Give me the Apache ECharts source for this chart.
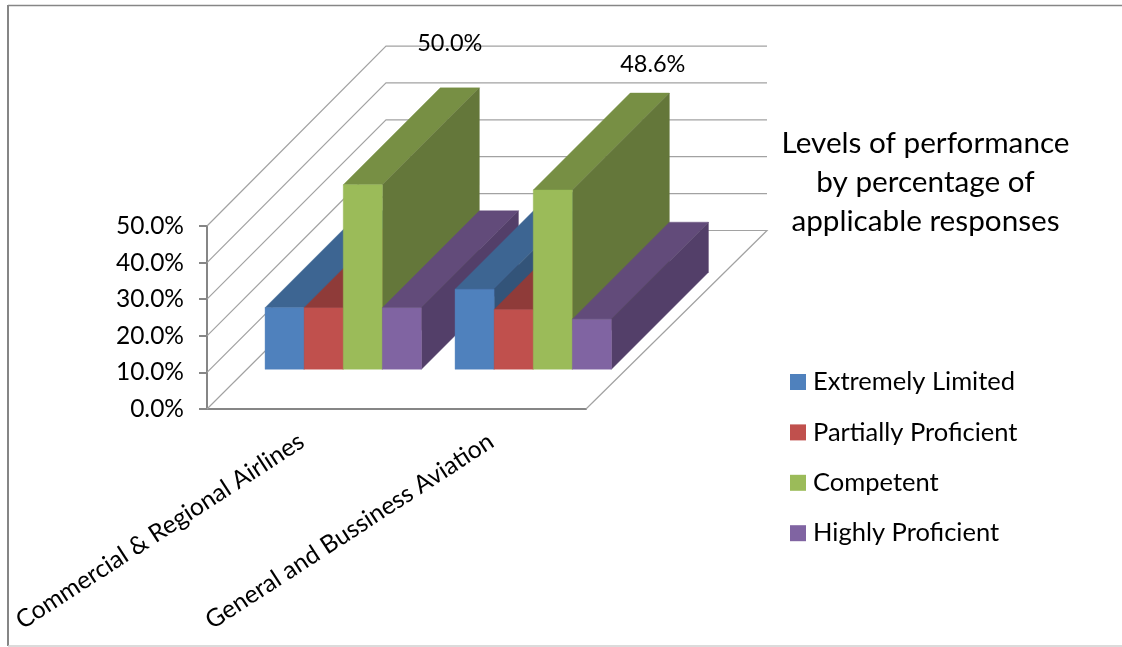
<!DOCTYPE html>
<html>
<head>
<meta charset="utf-8">
<style>html,body{margin:0;padding:0;background:#fff}#c{width:1122px;height:647px}</style>
<script src="https://cdn.jsdelivr.net/npm/echarts@6/dist/echarts.min.js"></script>
</head>
<body>
<div id="c"></div>
<script>
const categories = ['Commercial & Regional Airlines', 'General and Bussiness Aviation'];
const extremelyLimited = [16.7, 21.7];
const partiallyProficient = [16.7, 16.2];
const competent = [50.0, 48.6];
const highlyProficient = [16.7, 13.6];
const gridLevels = [0, 10, 20, 30, 40, 50];
const seriesNames = ['Extremely Limited', 'Partially Proficient', 'Competent', 'Highly Proficient'];
const titleLines = ['Levels of performance', 'by percentage of', 'applicable responses'];

const FONT = 'Lato';
const FRONT = ['#4f81bd', '#c0504d', '#9bbb59', '#8064a2'];
const TOP = ['#3d6592', '#8f3b39', '#778f44', '#624b7a'];
const SIDE = ['#335479', '#7d3432', '#64773a', '#533f69'];
const persp = 1.008, wallDepth = 179, wallDepthR = 181, wallDrop = 178.5;
const barShiftX = 41.5, barShiftY = 39.7, barDepth = 97, barW = 39.1;

function poly(points, fill, z2) {
  return { type: 'polygon', z2, shape: { points }, style: { fill, stroke: fill, lineWidth: 0.4 } };
}

function renderBar(sIdx) {
  return function (params, api) {
    const cat = api.value(0), val = api.value(1);
    const c0 = api.coord([cat, 0]), cv = api.coord([cat, val]);
    const h = (c0[1] - cv[1]) * persp;
    const x0 = c0[0] + barShiftX + (cat * 0.5) + (sIdx - 2) * barW;
    const x1 = x0 + barW, yb = c0[1] - barShiftY, yt = yb - h;
    const d = barDepth, zb = (cat + 1) * 100 + sIdx * 10;
    const children = [
      poly([[x0, yt], [x1, yt], [x1 + d, yt - d], [x0 + d, yt - d]], TOP[sIdx], zb),
      poly([[x1, yt], [x1 + d, yt - d], [x1 + d, yb - d], [x1, yb]], SIDE[sIdx], zb),
      poly([[x0, yt], [x1, yt], [x1, yb], [x0, yb]], FRONT[sIdx], zb + 1)
    ];
    if (sIdx === 2) {
      children.push({
        type: 'text', z2: 1000,
        x: x0 + barW / 2 + 87 + 13 * cat,
        y: yt - 141 + 15.5 * cat,
        style: { text: val.toFixed(1) + '%', font: '23.5px ' + FONT, fill: '#000', align: 'center', verticalAlign: 'middle' }
      });
    }
    return { type: 'group', children };
  };
}

function renderWall(params, api) {
  const level = api.value(0);
  const c0 = api.coord([0, 0]);
  const band = api.size([1, 0])[0];
  const cy = api.coord([0, level]);
  const left = c0[0] - band / 2;
  const right = left + band * 2;
  const yFront = cy[1];
  const yBack = c0[1] - wallDrop - (c0[1] - cy[1]) * persp;
  const pts = [[left, yFront], [left + wallDepth, yBack], [right + wallDepthR, yBack]];
  if (level === 0) pts.push([right, c0[1]]);
  return { type: 'polyline', shape: { points: pts }, style: { fill: null, stroke: '#a2a2a2', lineWidth: 1.2 } };
}

function barSeries(name, values, idx) {
  return {
    type: 'custom', name, coordinateSystem: 'cartesian2d', z: 3, clip: false,
    itemStyle: { color: FRONT[idx] },
    encode: { x: 0, y: 1 },
    data: values.map((v, i) => [i, v]),
    renderItem: renderBar(idx)
  };
}

const chart = echarts.init(document.getElementById('c'), null, { renderer: 'canvas' });
chart.setOption({
  animation: false,
  backgroundColor: '#fff',
  textStyle: { fontFamily: FONT },
  title: {
    text: titleLines.join('\n'),
    left: 925.5, top: 124, textAlign: 'center', padding: 0,
    textStyle: { fontFamily: FONT, fontWeight: 'normal', fontSize: 29.7, lineHeight: 39, color: '#000' }
  },
  legend: {
    orient: 'vertical', left: 790, top: 369, padding: 0,
    itemWidth: 16, itemHeight: 16, itemGap: 24.4, icon: 'rect',
    data: seriesNames,
    textStyle: { fontFamily: FONT, fontSize: 25.5, color: '#000', padding: [0, 0, 0, 2], lineHeight: 26 }
  },
  grid: { left: 207, right: 536, top: 226, bottom: 238 },
  xAxis: {
    type: 'category', data: categories,
    axisLine: { lineStyle: { color: '#868686', width: 2 } },
    axisTick: { length: 8, lineStyle: { color: '#868686', width: 2 } },
    axisLabel: { rotate: 33, interval: 0, margin: 30, fontSize: 24.7, color: '#000', fontFamily: FONT }
  },
  yAxis: {
    type: 'value', min: 0, max: 50, interval: 10,
    splitLine: { show: false },
    axisLine: { show: true, lineStyle: { color: '#868686', width: 2 } },
    axisTick: { show: true, length: 8, lineStyle: { color: '#868686', width: 2 } },
    axisLabel: { margin: 23, fontSize: 24.5, color: '#000', fontFamily: FONT, formatter: v => v.toFixed(1) + '%' }
  },
  graphic: [
    { type: 'line', shape: { x1: 8, y1: 5.5, x2: 1122, y2: 5.5 }, style: { stroke: '#868686', lineWidth: 1.5 } },
    { type: 'line', shape: { x1: 8, y1: 5, x2: 8, y2: 646 }, style: { stroke: '#868686', lineWidth: 2 } },
    { type: 'line', shape: { x1: 8, y1: 646, x2: 1122, y2: 646 }, style: { stroke: '#cfcfcf', lineWidth: 1.5 } }
  ],
  series: [
    {
      type: 'custom', name: 'walls', coordinateSystem: 'cartesian2d', z: 1, clip: false,
      encode: { y: 0 }, silent: true,
      data: gridLevels.map(v => [v]),
      renderItem: renderWall
    },
    barSeries(seriesNames[0], extremelyLimited, 0),
    barSeries(seriesNames[1], partiallyProficient, 1),
    barSeries(seriesNames[2], competent, 2),
    barSeries(seriesNames[3], highlyProficient, 3)
  ]
});
</script>
</body>
</html>
